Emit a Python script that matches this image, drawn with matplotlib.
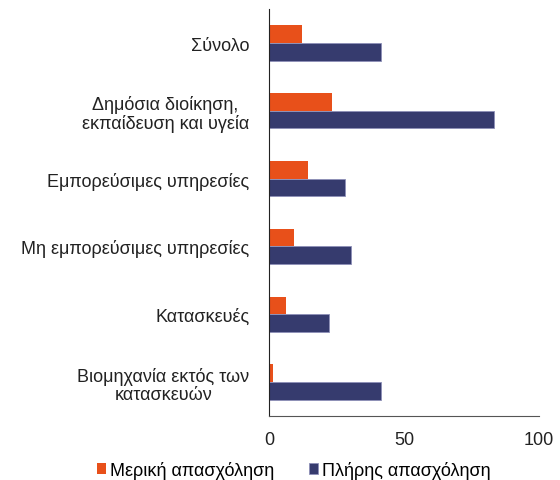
import numpy as np
import matplotlib.pyplot as plt

plt.rcParams['font.family'] = ['Liberation Sans', 'DejaVu Sans']

categories = ['Σύνολο', 'Δημόσια διοίκηση,\nεκπαίδευση και υγεία', 'Εμπορεύσιμες υπηρεσίες',
              'Μη εμπορεύσιμες υπηρεσίες', 'Κατασκευές', 'Βιομηχανία εκτός των\nκατασκευών']
part_time = [12.1, 23.2, 14.2, 9.2, 6.2, 1.3]
full_time = [41.3, 83.3, 28.1, 30.1, 22.1, 41.3]

orange = '#E8501A'
navy = '#363B6E'

fig = plt.figure(figsize=(5.6, 4.81), dpi=100)
ax = fig.add_axes([0.481, 0.133, 0.4815, 0.846])

y = np.arange(len(categories))
h = 0.26
ax.barh(y - h / 2, part_time, height=h, color=orange, label='Μερική απασχόληση')
ax.barh(y + h / 2, full_time, height=h, color=navy, edgecolor='#8E90B8', linewidth=0.6,
        label='Πλήρης απασχόληση')

ax.set_ylim(len(categories) - 0.5, -0.5)
ax.set_xlim(0, 100)
ax.set_xticks([0, 50, 100])
ax.set_yticks(y)
ax.set_yticklabels(categories, multialignment='center', linespacing=1.1)
ax.tick_params(axis='both', length=0, labelsize=13, colors='#222222')
ax.tick_params(axis='y', pad=14.5)
ax.tick_params(axis='x', pad=11)

for s in ['top', 'right']:
    ax.spines[s].set_visible(False)
ax.spines['left'].set_color('#222222')
ax.spines['bottom'].set_color('#555555')

fig.legend(loc='center', bbox_to_anchor=(0.525, 1 - 471 / 481), ncol=2, frameon=False,
           fontsize=13, handlelength=0.5, handleheight=0.5, handletextpad=0.2,
           columnspacing=1.95, borderpad=0)

fig.savefig('out.png', dpi=100)
